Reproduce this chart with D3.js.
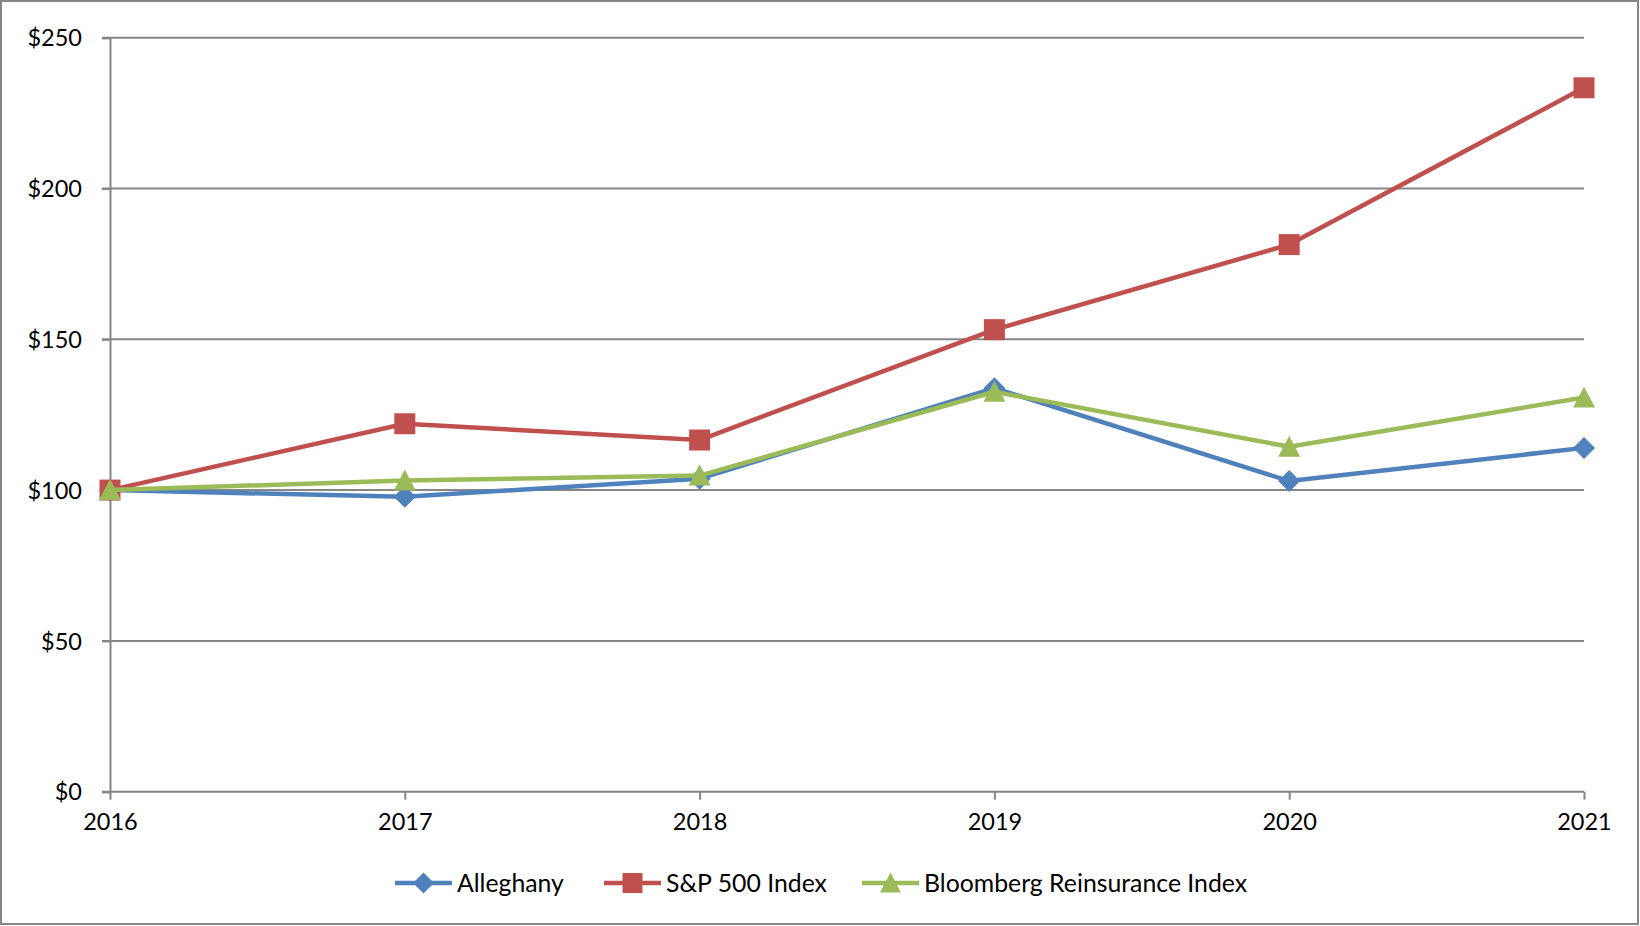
<!DOCTYPE html>
<html><head><meta charset="utf-8">
<script src="https://cdn.jsdelivr.net/npm/d3@7"></script>
<style>body{margin:0;background:#fff}svg{display:block}text{font-family:Lato,"Open Sans",sans-serif;fill:#000}</style>
</head><body>
<script>
const years = ["2016","2017","2018","2019","2020","2021"];
const alleghany = [100, 97.8, 103.8, 133.8, 103.0, 114.0];
const sp500 = [100, 122.0, 116.6, 153.2, 181.4, 233.4];
const bloomberg = [100, 103.2, 104.8, 132.6, 114.4, 130.7];
const yTicks = [0, 50, 100, 150, 200, 250];
const seriesNames = ["Alleghany", "S&P 500 Index", "Bloomberg Reinsurance Index"];
const seriesColors = ["#4F81BD", "#C0504D", "#9BBB59"];
const seriesShapes = ["diamond", "square", "triangle"];

const W = 1640, H = 926;
const svg = d3.select("body").append("svg").attr("width", W).attr("height", H);
svg.append("rect").attr("x",1).attr("y",1).attr("width",W-3).attr("height",H-3)
  .attr("fill","#fff").attr("stroke","#868686").attr("stroke-width",2);

const x = d3.scalePoint().domain(years).range([110, 1584]);
const y = d3.scaleLinear().domain([0, 250]).range([791.7, 37.7]);

// gridlines
svg.append("g").selectAll("line").data(yTicks).join("line")
  .attr("x1", 102).attr("x2", 1584)
  .attr("y1", d => y(d)).attr("y2", d => y(d))
  .attr("stroke", "#868686").attr("stroke-width", 2);

// y axis
const yAxis = d3.axisLeft(y).tickValues(yTicks).tickFormat(d => "$" + d).tickSize(8).tickPadding(20);
const gy = svg.append("g").attr("transform", "translate(110,0)").call(yAxis);
gy.select(".domain").attr("stroke", "#868686").attr("stroke-width", 2);
gy.selectAll(".tick line").attr("stroke", "#868686").attr("stroke-width", 2);
gy.selectAll("text").attr("font-size", 23.5).attr("font-family", "Lato").attr("fill", "#000").attr("dy", "0.35em");

// x axis
const xAxis = d3.axisBottom(x).tickSize(8).tickPadding(14);
const gx = svg.append("g").attr("transform", `translate(0,${y(0)})`).call(xAxis);
gx.select(".domain").remove();
gx.selectAll(".tick line").attr("stroke", "#868686").attr("stroke-width", 2);
gx.selectAll("text").attr("font-size", 23.5).attr("font-family", "Lato").attr("fill", "#000");

const data = [alleghany, sp500, bloomberg];
const line = d3.line().x((d, i) => x(years[i])).y(d => y(d));

function symbolPath(shape) {
  if (shape === "diamond") return "M0,-11L11,0L0,11L-11,0Z";
  if (shape === "square") return "M-10.5,-10.5H10.5V10.5H-10.5Z";
  return "M0,-11L11,10L-11,10Z";
}

data.forEach((vals, si) => {
  const g = svg.append("g");
  g.append("path").datum(vals).attr("d", line).attr("fill", "none")
    .attr("stroke", seriesColors[si]).attr("stroke-width", 4.5).attr("stroke-linejoin", "round");
  g.selectAll("path.m").data(vals).join("path").attr("class", "m")
    .attr("transform", (d, i) => `translate(${x(years[i])},${y(d)})`)
    .attr("d", symbolPath(seriesShapes[si])).attr("fill", seriesColors[si]);
});

// legend
const legendX = [395, 604, 862];
const legendY = 883;
seriesNames.forEach((name, i) => {
  const g = svg.append("g").attr("transform", `translate(${legendX[i]},${legendY})`);
  g.append("line").attr("x1", 0).attr("x2", 57).attr("stroke", seriesColors[i]).attr("stroke-width", 4.5);
  g.append("path").attr("transform", "translate(28.5,0) scale(0.95)").attr("d", symbolPath(seriesShapes[i])).attr("fill", seriesColors[i]);
  g.append("text").attr("x", 62).attr("y", 0).attr("dy", "0.35em").attr("font-size", 24.8).text(name);
});
</script>
</body></html>
